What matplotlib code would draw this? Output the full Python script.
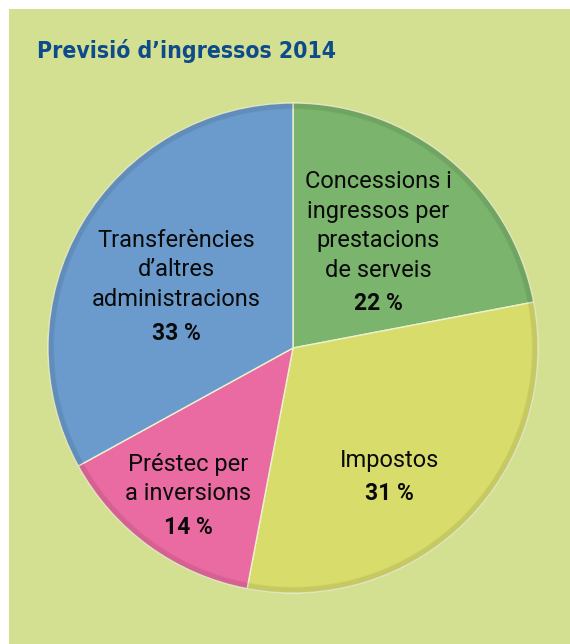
import numpy as np
import matplotlib.pyplot as plt
from matplotlib.patches import Circle
from matplotlib import font_manager

# data
labels = ['Concessions i\ningressos per\nprestacions\nde serveis', 'Impostos',
          'Préstec per\na inversions', 'Transferències\nd\u2019altres\nadministracions']
values = [22, 31, 14, 33]
colors = ['#7bb46c', '#d8dc6b', '#e96ba1', '#6b9bcd']
title = 'Previsi\u00f3 d\u2019ingressos 2014'

# label placement (pixel positions of label centres / percent text)
label_pos = [(378, 226), (389, 461), (188, 479), (176, 270)]
pct_y = [304, 494, 527, 333]

W, H = 570, 644
fig = plt.figure(figsize=(W / 100, H / 100), dpi=100)
fig.patch.set_facecolor('white')

# green panel
bg = fig.add_axes([9 / W, 0, 1 - 9 / W, 1 - 9 / H], zorder=0)
bg.set_facecolor('#d3df91')
bg.set_xticks([])
bg.set_yticks([])
for s in bg.spines.values():
    s.set_visible(False)

names = set(f.name for f in font_manager.fontManager.ttflist)
title_font = 'Liberation Sans Narrow' if 'Liberation Sans Narrow' in names else 'DejaVu Sans'
fig.text(37 / W, 1 - 51 / H, title, fontsize=16.5, fontweight='bold', fontstretch='condensed',
         color='#0d4b8b', va='center', ha='left', family=[title_font, 'DejaVu Sans'], zorder=5)

cx, cy, r = 293, 348, 245
ax = fig.add_axes([(cx - r) / W, (H - cy - r) / H, 2 * r / W, 2 * r / H], zorder=2)

wedges, _ = ax.pie(values, colors=colors, startangle=90, counterclock=False, radius=1,
                   wedgeprops=dict(edgecolor='#eef2cc', linewidth=1.0))
ax.set_xlim(-1, 1)
ax.set_ylim(-1, 1)
ax.set_aspect('equal')
ax.axis('off')

# soft rim shading
for k in range(10):
    ax.add_patch(Circle((0, 0), 1 - k * 0.0025, fill=False, edgecolor='black',
                        linewidth=1.0, alpha=0.035, zorder=3))

def to_data(px, py):
    return (px - cx) / r, (cy - py) / r

for lab, v, (px, py), yp in zip(labels, values, label_pos, pct_y):
    x, y = to_data(px, py)
    ax.text(x, y, lab, ha='center', va='center', fontsize=17, linespacing=1.38,
            color='#0a0a0a', family=['Roboto', 'DejaVu Sans'], zorder=5)
    x2, y2 = to_data(px, yp)
    ax.text(x2, y2, f'{v} %', ha='center', va='center', fontsize=16.5, fontweight='bold',
            color='#0a0a0a', family=['Roboto', 'DejaVu Sans'], zorder=5)

fig.savefig('out.png', dpi=100, facecolor='white')
